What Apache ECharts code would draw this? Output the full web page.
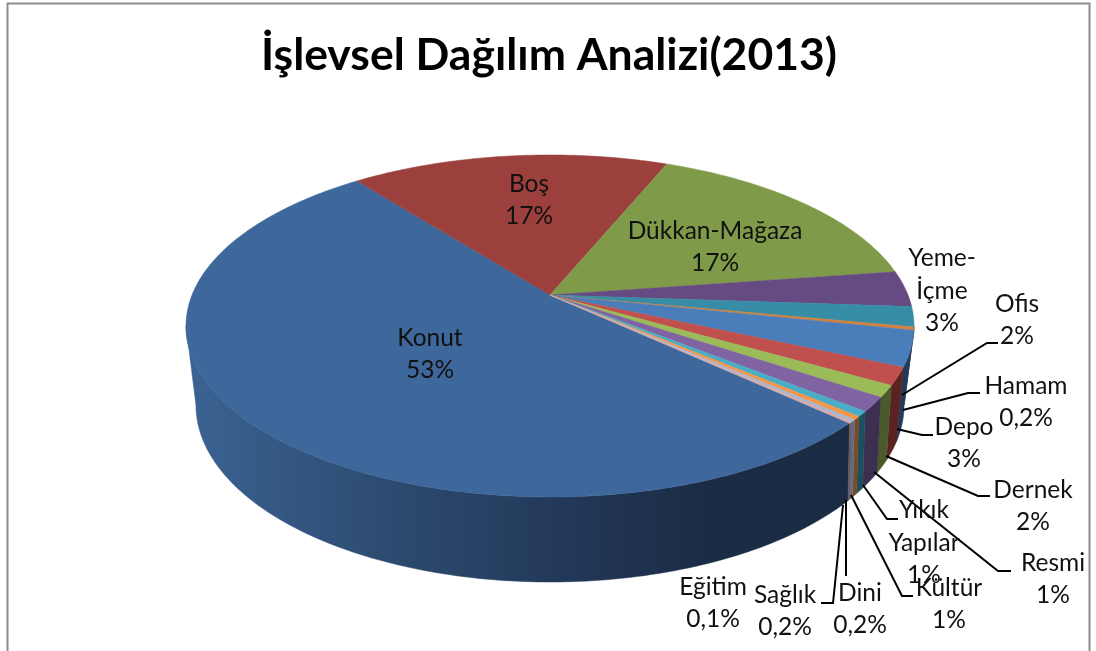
<!DOCTYPE html>
<html>
<head>
<meta charset="utf-8">
<title>İşlevsel Dağılım Analizi</title>
<script src="https://cdn.jsdelivr.net/npm/echarts@6/dist/echarts.min.js"></script>
<style>
  html, body { margin: 0; padding: 0; background: #fff; }
  #chart { width: 1096px; height: 651px; }
</style>
</head>
<body>
<div id="chart"></div>
<script>
const titleText = 'İşlevsel Dağılım Analizi(2013)';
const categories = ['Konut', 'Boş', 'Dükkan-Mağaza', 'Yeme-\nİçme', 'Ofis', 'Hamam', 'Depo', 'Dernek', 'Resmi', 'Yıkık\nYapılar', 'Kültür', 'Dini', 'Sağlık', 'Eğitim'];
// slice sizes, the printed labels are rounded
const sliceValues = [52.6, 16.8, 16.5, 3.4, 1.9, 0.3, 3.35, 1.65, 1.1, 1.35, 0.5, 0.3, 0.2, 0.15];
const percentLabels = ['53%', '17%', '17%', '3%', '2%', '0,2%', '3%', '2%', '1%', '1%', '1%', '0,2%', '0,2%', '0,1%'];

const topColors = ['#3e689b', '#9b403d', '#7f9a48', '#664a82', '#378da6', '#d1813c', '#4a7ebb', '#bf504d', '#9bbb59', '#8064a2', '#4bacc6', '#f79646', '#a3b6d8', '#d8a8a8'];
const wallColors = ['#1a2c44', '#5a2422', '#4b5a2a', '#3c2f50', '#1e4f5c', '#7a4a22', '#1f3a5c', '#5a2220', '#4b5a2a', '#3c2f50', '#1e4f5c', '#7a4a22', '#5f6c88', '#6a5a60'];

// label centres and leader lines, page pixels
const labelSpots = [[430, 354], [529, 200], [715, 247], [942, 291], [1017, 320], [1026, 402], [964, 443], [1033, 506], [1053, 579], [924, 543], [949, 604], [860, 609], [785, 611], [713, 603]];
const leaderLines = [
  null, null, null, null,
  [[902, 395], [987, 343], [998, 343]],
  [[903, 410], [968, 393], [980, 393]],
  [[897, 429], [922, 435], [933, 435]],
  [[886, 456], [978, 496], [990, 496]],
  [[874, 472], [998, 571], [1011, 571]],
  [[863, 485], [887, 519], [898, 519]],
  [[851, 495], [902, 596], [913, 596]],
  [[846, 500], [846, 576]],
  [[843, 505], [833, 603], [821, 603]],
  null
];

const startAngle = 132.8;
const fontName = 'Lato, "Open Sans", sans-serif';

// tilted disc: the centre of the pie is not the centre of the ellipse
const pie = { x: 550, y: 295, a: 358, b: 165.4, k: 0.181 };
const pieBottom = { x: 550, y: 366.1, a: 345.4, b: 168.4, k: 0.22 };

function rimPoint(disc, deg) {
  const t = deg * Math.PI / 180;
  const w = 1 + disc.k * Math.cos(t);
  return [disc.x + disc.a * Math.sin(t) / w, disc.y - disc.b * Math.cos(t) / w];
}

function arcPoints(disc, from, to) {
  const pts = [];
  const steps = Math.max(2, Math.ceil(Math.abs(to - from)));
  for (let i = 0; i <= steps; i++) {
    pts.push(rimPoint(disc, from + (to - from) * i / steps));
  }
  return pts;
}

const total = sliceValues.reduce((s, v) => s + v, 0);
const sliceAngles = [];
let acc = startAngle;
sliceValues.forEach(v => {
  sliceAngles.push([acc, acc + v / total * 360]);
  acc += v / total * 360;
});

// the wall runs between the two side tangents of each rim
function clampToSides(disc, from, to) {
  const side = Math.acos(-disc.k) * 180 / Math.PI;
  for (const shift of [0, -360]) {
    const a = Math.max(from + shift, side);
    const b = Math.min(to + shift, 360 - side);
    if (a < b) return [a, b];
  }
  return null;
}

const wallFill = i => {
  if (i !== 0) return wallColors[i];
  return new echarts.graphic.LinearGradient(186, 0, 860, 0, [
    { offset: 0, color: '#3b6393' },
    { offset: 0.3, color: '#2d4b70' },
    { offset: 0.55, color: '#23395a' },
    { offset: 0.76, color: '#1b2d46' },
    { offset: 1, color: wallColors[0] }
  ], true);
};

const renderWall = (params) => {
  const i = params.dataIndex;
  const up = clampToSides(pie, sliceAngles[i][0], sliceAngles[i][1]);
  if (!up) return { type: 'group', children: [] };
  const low = clampToSides(pieBottom, sliceAngles[i][0], sliceAngles[i][1]);
  let points = arcPoints(pie, up[0], up[1]);
  if (low) {
    points = points.concat(arcPoints(pieBottom, low[1], low[0]));
  } else {
    // slice sits on the right edge only, close it on the first bottom point
    points.push(rimPoint(pieBottom, Math.acos(-pieBottom.k) * 180 / Math.PI));
  }
  const fill = wallFill(i);
  return {
    type: 'polygon',
    shape: { points },
    style: { fill, stroke: fill, lineWidth: 0.5 }
  };
};

const renderTop = (params) => {
  const i = params.dataIndex;
  const points = [[pie.x, pie.y]].concat(arcPoints(pie, sliceAngles[i][0], sliceAngles[i][1]));
  return {
    type: 'polygon',
    shape: { points },
    style: { fill: topColors[i], stroke: topColors[i], lineWidth: 0.5 }
  };
};

const renderLabel = (params) => {
  const i = params.dataIndex;
  const children = [];
  if (leaderLines[i]) {
    children.push({
      type: 'polyline',
      shape: { points: leaderLines[i] },
      style: { fill: null, stroke: '#000', lineWidth: 2 }
    });
  }
  children.push({
    type: 'text',
    style: {
      x: labelSpots[i][0],
      y: labelSpots[i][1],
      text: categories[i] + '\n' + percentLabels[i],
      fill: '#111',
      font: '24.5px ' + fontName,
      lineHeight: 32.5,
      align: 'center',
      verticalAlign: 'middle'
    }
  });
  return { type: 'group', children };
};

const seriesData = sliceValues.map((v, i) => ({ name: categories[i], value: v }));

const chart = echarts.init(document.getElementById('chart'), null, { renderer: 'canvas' });

chart.setOption({
  animation: false,
  backgroundColor: '#fff',
  title: {
    text: titleText,
    left: 544,
    top: 28,
    textAlign: 'center',
    textStyle: { fontFamily: fontName, fontSize: 44.5, fontWeight: 'bold', color: '#000' }
  },
  graphic: [{
    type: 'rect',
    silent: true,
    shape: { x: 7.5, y: 3.5, width: 1082, height: 660 },
    style: { fill: null, stroke: '#8c8c8c', lineWidth: 2 }
  }],
  series: [
    { type: 'custom', coordinateSystem: 'none', z: 2, renderItem: renderWall, data: seriesData },
    { type: 'custom', coordinateSystem: 'none', z: 3, renderItem: renderTop, data: seriesData },
    { type: 'custom', coordinateSystem: 'none', z: 4, renderItem: renderLabel, data: seriesData }
  ]
});

window.addEventListener('resize', () => chart.resize());
</script>
</body>
</html>
